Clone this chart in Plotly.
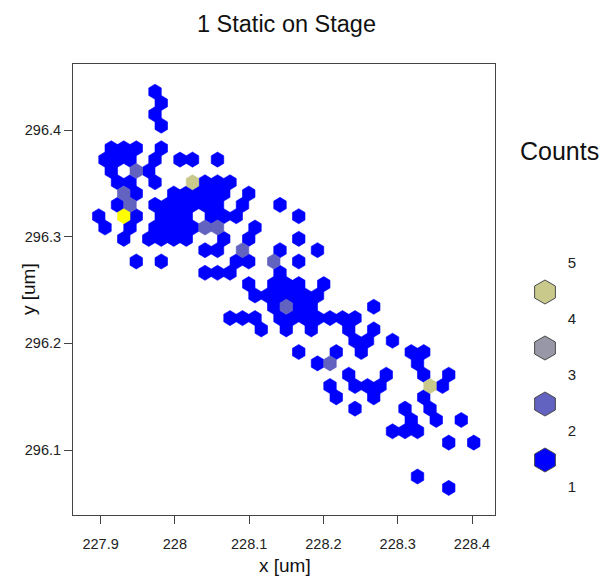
import plotly.graph_objects as go

W, H = 607, 576

# hexbin grid (data units): cell centres = origin + index * step (odd rows shifted by half a step)
x_origin = 227.97324
y_origin = 296.43590
x_step = 0.016828
y_step = 0.010609

# hexbin cells: row index (from top), column index, count
hex_row = [0, 1, 2, 3,
           5, 5, 5, 5,
           6, 6, 6, 6, 6, 6, 6,
           7, 7, 7,
           8, 8, 8, 8, 8, 8, 8,
           9, 9, 9, 9, 9, 9, 9, 9,
           10, 10, 10, 10, 10, 10, 10, 10, 10, 10,
           11, 11, 11, 11, 11, 11, 11, 11, 11, 11,
           12, 12, 12, 12, 12, 12, 12, 12, 12,
           13, 13, 13, 13, 13, 13, 13, 13,
           14, 14, 14, 14, 14,
           15, 15, 15, 15, 15, 15,
           16, 16, 16, 16,
           17, 17, 17, 17, 17,
           18, 18, 18, 18, 18, 18,
           19, 19, 19, 19, 19,
           20, 20, 20, 20, 20, 20, 20, 20, 20, 20,
           21, 21, 21, 21, 21,
           22, 22, 22,
           23, 23, 23, 23, 23,
           24, 24, 24,
           25, 25, 25, 25,
           26, 26, 26, 26, 26, 26,
           27, 27, 27,
           28, 28, 28,
           29, 29, 29,
           30, 30, 30,
           31, 31,
           34,
           35]
hex_col = [0, 0, 0, 0,
           -4, -3, -2, 0,
           -4, -3, -2, 0, 2, 3, 5,
           -4, -2, -1,
           -3, -2, 0, 3, 4, 5, 6,
           -3, -2, 1, 2, 3, 4, 5, 7,
           -3, -2, 0, 1, 2, 3, 4, 5, 7, 10,
           -5, -3, -2, 0, 1, 2, 4, 5, 6, 11,
           -4, -2, 0, 1, 2, 3, 4, 5, 8,
           -3, -1, 0, 1, 2, 5, 7, 11,
           4, 5, 7, 10, 13,
           -2, 0, 6, 7, 9, 11,
           4, 5, 6, 10,
           7, 9, 10, 11, 13,
           8, 9, 10, 11, 12, 13,
           9, 10, 11, 12, 17,
           6, 7, 8, 10, 11, 12, 13, 14, 15, 16,
           8, 10, 12, 15, 17,
           16, 17, 19,
           11, 14, 16, 20, 21,
           13, 14, 21,
           15, 18, 21, 23,
           14, 16, 17, 18, 22, 23,
           14, 17, 21,
           16, 20, 22,
           20, 22, 24,
           19, 20, 21,
           23, 25,
           21,
           23]
hex_count = [1, 1, 1, 1,
             1, 1, 1, 1,
             1, 1, 1, 1, 1, 1, 1,
             1, 2, 1,
             1, 1, 1, 4, 1, 1, 1,
             2, 1, 1, 1, 1, 1, 1, 1,
             1, 2, 1, 1, 1, 1, 1, 1, 1, 1,
             1, 5, 1, 1, 1, 1, 1, 1, 1, 1,
             1, 1, 1, 1, 1, 1, 2, 2, 1,
             1, 1, 1, 1, 1, 1, 1, 1,
             1, 1, 2, 1, 1,
             1, 1, 1, 1, 2, 1,
             1, 1, 1, 1,
             1, 1, 1, 1, 1,
             1, 1, 1, 1, 1, 1,
             1, 2, 1, 1, 1,
             1, 1, 1, 1, 1, 1, 1, 1, 1, 1,
             1, 1, 1, 1, 1,
             1, 1, 1,
             1, 1, 1, 1, 1,
             1, 2, 1,
             1, 1, 1, 1,
             1, 1, 1, 1, 4, 1,
             1, 1, 1,
             1, 1, 1,
             1, 1, 1,
             1, 1, 1,
             1, 1,
             1,
             1]

count_levels = [1, 2, 3, 4, 5]
count_colors = ["#0000FF", "#6262C0", "#9797A8", "#C9C98C", "#FFFF00"]
legend_labels = ["1", "2", "3", "4", "5"]

x_ticks = [227.9, 228.0, 228.1, 228.2, 228.3, 228.4]
x_ticktext = ["227.9", "228", "228.1", "228.2", "228.3", "228.4"]
y_ticks = [296.1, 296.2, 296.3, 296.4]
y_ticktext = ["296.1", "296.2", "296.3", "296.4"]

assert len(hex_row) == len(hex_col) == len(hex_count)

FONT = "Liberation Sans, Arial, Helvetica, sans-serif"

# pointy-top hexagon outline, in units of the grid steps
hex_outline = [(0, 2 / 3), (0.5, 1 / 3), (0.5, -1 / 3), (0, -2 / 3),
               (-0.5, -1 / 3), (-0.5, 1 / 3), (0, 2 / 3)]

fig = go.Figure()
for lvl, col in zip(count_levels, count_colors):
    xs, ys = [], []
    for r, c, n in zip(hex_row, hex_col, hex_count):
        if n != lvl:
            continue
        cx = x_origin + (c + 0.5 * (r % 2)) * x_step
        cy = y_origin - r * y_step
        for ox, oy in hex_outline:
            xs.append(cx + ox * x_step)
            ys.append(cy + oy * y_step)
        xs.append(None)
        ys.append(None)
    if xs:
        fig.add_trace(go.Scatter(
            x=xs, y=ys, mode="lines", fill="toself", fillcolor=col,
            line=dict(color=col, width=0.6), hoverinfo="skip",
            showlegend=False, xaxis="x", yaxis="y"))

# legend on a pixel-space overlay axis
leg_hex_y = [460 - 56 * i for i in range(4)]
leg_lab_y = [488 - 56 * i for i in range(5)]
fig.add_trace(go.Scatter(
    x=[545] * 4, y=leg_hex_y, mode="markers",
    marker=dict(symbol="hexagon", size=24, color=count_colors[:4],
                line=dict(color="#4a4a4a", width=1)),
    hoverinfo="skip", showlegend=False, xaxis="x2", yaxis="y2"))
fig.add_trace(go.Scatter(
    x=[572] * 5, y=leg_lab_y, mode="text", text=legend_labels,
    textfont=dict(family=FONT, size=15, color="#222"),
    hoverinfo="skip", showlegend=False, xaxis="x2", yaxis="y2"))

axis_common = dict(showgrid=False, zeroline=False, showline=True, mirror=True,
                   linecolor="#444", linewidth=1, ticks="outside", ticklen=8,
                   tickcolor="#444", tickfont=dict(family=FONT, size=14.5, color="#222"))

fig.update_layout(
    width=W, height=H,
    margin=dict(l=0, r=0, t=0, b=0),
    paper_bgcolor="white", plot_bgcolor="rgba(0,0,0,0)",
    showlegend=False,
    xaxis=dict(domain=[73 / W, 495 / W], range=[227.86284, 228.43096],
               tickvals=x_ticks, ticktext=x_ticktext, anchor="y",
               ticklabelstandoff=8, **axis_common),
    yaxis=dict(domain=[1 - 515 / H, 1 - 64 / H], range=[296.03918, 296.46186],
               tickvals=y_ticks, ticktext=y_ticktext, anchor="x", **axis_common),
    xaxis2=dict(domain=[0, 1], range=[0, W], visible=False, anchor="y2"),
    yaxis2=dict(domain=[0, 1], range=[H, 0], visible=False, anchor="x2"),
    annotations=[
        dict(x=286, y=24, xref="x2", yref="y2", text="1 Static on Stage", showarrow=False,
             font=dict(family=FONT, size=23.5, color="#111")),
        dict(x=285, y=565, xref="x2", yref="y2", text="x [um]", showarrow=False,
             font=dict(family=FONT, size=19, color="#111")),
        dict(x=28, y=289, xref="x2", yref="y2", text="y [um]", showarrow=False,
             textangle=-90, font=dict(family=FONT, size=19, color="#111")),
        dict(x=559, y=151, xref="x2", yref="y2", text="Counts", showarrow=False,
             font=dict(family=FONT, size=25, color="#111")),
    ],
)

fig.write_html("out.html", config={"displayModeBar": False},
               post_script="document.body.style.margin='0';document.body.style.overflow='hidden';")
